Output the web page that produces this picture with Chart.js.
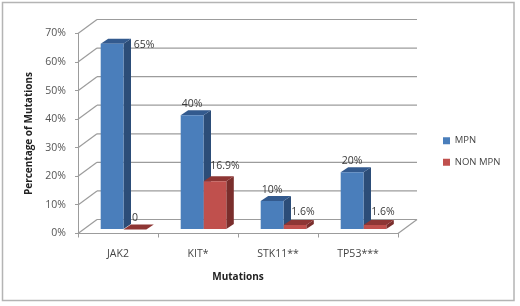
<!DOCTYPE html>
<html>
<head>
<meta charset="utf-8">
<style>
  html, body { margin: 0; background: #fff; }
  canvas { display: block; }
</style>
</head>
<body>
<canvas id="mutationsChart" width="520" height="306"></canvas>
<script src="https://cdn.jsdelivr.net/npm/chart.js@4"></script>
<script>
// values
const categories = ['JAK2', 'KIT*', 'STK11**', 'TP53***'];
const mpnValues = [65, 40, 10, 20];
const nonMpnValues = [0, 16.9, 1.6, 1.6];
const yTicks = [0, 10, 20, 30, 40, 50, 60, 70];

const fontName = '"Open Sans", "Noto Sans", sans-serif';
const gridColor = '#9c9c9c';
const seriesColors = [
    { front: '#4a7ebb', side: '#2c4d78', top: '#335a8e' },
    { front: '#c0504d', side: '#7a2e2c', top: '#8e3634' }
];
// fake 3d depth: bars sit part way in, the wall at the back
const barShift = { x: 5.5, y: -4 };
const barDepth = { x: 7.5, y: -5 };
const wallDepth = { x: 19, y: -14 };
// label position relative to the top centre of the bar, [dataset][category]
const labelNudge = [
    [[32, 1], [0, -11], [0, -11], [0, -11]],
    [[0, -11], [10, -15], [8, -13], [8, -13]]
];

function labelText(v) { return v === 0 ? '0' : v + '%'; }

function polygon(ctx, pts, color) {
    ctx.fillStyle = color;
    ctx.beginPath();
    pts.forEach((p, i) => i ? ctx.lineTo(p[0], p[1]) : ctx.moveTo(p[0], p[1]));
    ctx.closePath();
    ctx.fill();
}

function segment(ctx, x1, y1, x2, y2) {
    ctx.beginPath();
    ctx.moveTo(x1, y1);
    ctx.lineTo(x2, y2);
    ctx.stroke();
}

const frame3d = {
    id: 'frame3d',
    afterLayout(chart) {
        // legend sits beside the plot, not inside it
        const legend = chart.legend;
        const w = legend.width, h = legend.height;
        legend.left = 431; legend.right = 431 + w;
        legend.top = 151.5 - h / 2; legend.bottom = 151.5 + h / 2;
    },
    beforeDraw(chart) {
        const { ctx, chartArea: a, scales: { y } } = chart;
        ctx.save();
        ctx.strokeStyle = '#b4b4b4';
        ctx.lineWidth = 1.5;
        ctx.strokeRect(2.5, 2.5, 511.5, 298);
        ctx.strokeStyle = gridColor;
        ctx.lineWidth = 1.2;
        yTicks.forEach(t => {
            const py = y.getPixelForValue(t);
            const backX = a.left + wallDepth.x, backY = py + wallDepth.y;
            segment(ctx, a.left, py, backX, backY);
            segment(ctx, backX, backY, backX + a.width, backY);
            if (t === 0) segment(ctx, backX + a.width, backY, a.right, py);
        });
        ctx.restore();
    },
    beforeDatasetsDraw(chart) {
        const { ctx } = chart;
        ctx.save();
        ctx.translate(barShift.x, barShift.y);
        chart.data.datasets.forEach((ds, i) => {
            chart.getDatasetMeta(i).data.forEach(bar => {
                const l = bar.x - bar.width / 2, r = bar.x + bar.width / 2;
                const dx = barDepth.x, dy = barDepth.y;
                polygon(ctx, [[r, bar.y], [r + dx, bar.y + dy], [r + dx, bar.base + dy], [r, bar.base]], seriesColors[i].side);
                polygon(ctx, [[l, bar.y], [l + dx, bar.y + dy], [r + dx, bar.y + dy], [r, bar.y]], seriesColors[i].top);
            });
        });
    },
    afterDatasetsDraw(chart) {
        const { ctx } = chart;
        ctx.font = '10.5px ' + fontName;
        ctx.fillStyle = '#3a3a3a';
        ctx.textAlign = 'center';
        ctx.textBaseline = 'middle';
        chart.data.datasets.forEach((ds, i) => {
            chart.getDatasetMeta(i).data.forEach((bar, j) => {
                const n = labelNudge[i][j];
                ctx.fillText(labelText(ds.data[j]), bar.x + n[0], bar.y + n[1]);
            });
        });
        ctx.restore();
    }
};

new Chart(document.getElementById('mutationsChart').getContext('2d'), {
    type: 'bar',
    data: {
        labels: categories,
        datasets: [
            { label: 'MPN', data: mpnValues, backgroundColor: seriesColors[0].front },
            { label: 'NON MPN', data: nonMpnValues, backgroundColor: seriesColors[1].front }
        ]
    },
    options: {
        responsive: false,
        animation: false,
        categoryPercentage: 0.57,
        barPercentage: 1,
        layout: { padding: { left: 22, top: 33.5, right: 122, bottom: 20 } },
        plugins: {
            tooltip: { enabled: false },
            legend: {
                position: 'chartArea',
                labels: { boxWidth: 7, boxHeight: 7, padding: 12, color: '#444', font: { family: fontName, size: 9.5 } }
            }
        },
        scales: {
            x: {
                afterFit(scale) { scale.height = 52.5; },
                grid: { drawOnChartArea: false, tickLength: 4, color: gridColor },
                border: { color: gridColor },
                ticks: { padding: 10, color: '#444', maxRotation: 0, font: { family: fontName, size: 10.5 } },
                title: { display: true, text: 'Mutations', color: '#222', padding: { top: 0, bottom: 3 }, font: { family: fontName, size: 10, weight: 'bold' } }
            },
            y: {
                min: 0,
                max: 70,
                afterFit(scale) { scale.width = 56; },
                grid: { drawOnChartArea: false, tickLength: 3, color: gridColor },
                border: { color: gridColor },
                ticks: { stepSize: 10, padding: 9, color: '#555', callback: v => v + '%', font: { family: fontName, size: 10.5 } },
                title: { display: true, text: 'Percentage of Mutations', color: '#222', padding: { top: 1, bottom: 0 }, font: { family: fontName, size: 10, weight: 'bold' } }
            }
        }
    },
    plugins: [frame3d]
});
</script>
</body>
</html>
